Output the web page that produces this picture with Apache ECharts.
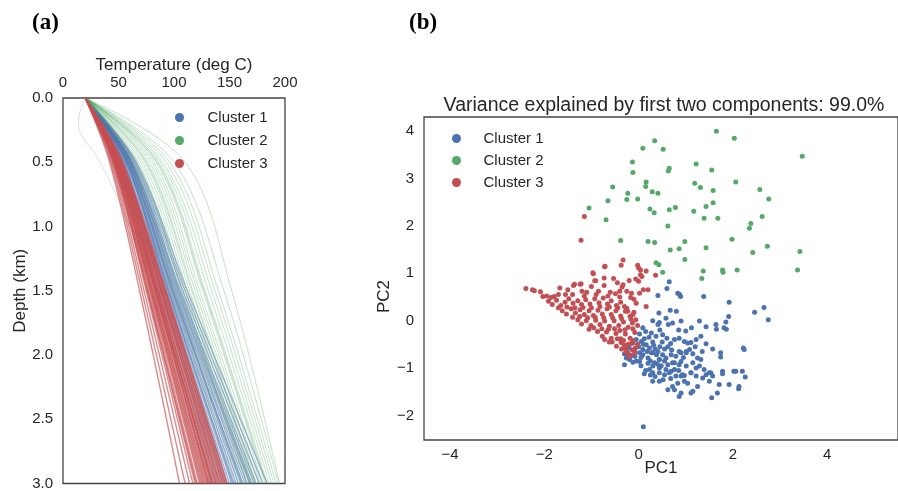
<!DOCTYPE html>
<html>
<head>
<meta charset="utf-8">
<script src="https://cdn.jsdelivr.net/npm/echarts@6/dist/echarts.min.js"></script>
<style>
html,body{margin:0;padding:0;background:#fff;}
#main{width:898px;height:491px;}
</style>
</head>
<body>
<div id="main"></div>
<script>
// (a) temperature profiles: surface temp, then temps at 0.5, 1.5, 3.0 km
var depthLevels = [0, 0.5, 1.5, 3.0];
var surfaceTemp = 20;
var tempTicks = [0, 50, 100, 150, 200];
var depthTicks = [0, 0.5, 1.0, 1.5, 2.0, 2.5, 3.0];

var cluster1Profiles = [
	[52,84,135],[53,86,138],[54,88,141],[55,89,144],[55,90,146],[56,92,148],[57,93,150],
	[57,94,152],[58,95,154],[58,96,156],[59,97,158],[59,98,160],[60,99,162],[60,100,164],
	[61,101,166],[61,102,168],[62,104,170],[62,105,172],[63,106,174],[64,108,177],
	[65,110,180],[66,112,184],[57,95,153],[59,99,161],[61,103,169]
];
var cluster2Profiles = [
	[60,98,155],[63,101,158],[65,104,162],[67,107,165],[70,110,168],[72,112,170],
	[74,114,172],[76,117,174],[78,119,176],[80,121,178],[82,123,180],[84,126,182],
	[86,128,184],[88,131,186],[90,134,188],[93,137,190],[96,140,192],[100,145,194],
	[110,152,195],[68,108,166],[75,116,173],[85,127,183]
];
var cluster3Profiles = [
	[42,69,105],[43,71,110],[44,73,114],[45,75,117],[45,76,119],[46,77,121],[46,78,123],
	[47,79,125],[47,80,126],[47,80,127],[48,81,128],[48,81,129],[48,82,130],[48,83,131],
	[49,83,132],[49,84,133],[49,84,134],[50,85,135],[50,86,136],[50,86,137],[50,87,138],
	[51,88,139],[51,88,140],[51,89,141],[52,89,142],[52,90,143],[52,91,144],[53,91,145],
	[53,92,146],[53,92,147],[54,93,148],[46,76,120],[49,83,131],[50,85,134],[47,79,124]
];
// the odd profile that bends left near the surface
var oddDepths = [0, 0.12, 0.22, 0.32, 0.45, 0.7, 1.5, 3.0];
var oddTemps = [20, 15, 14, 19, 30, 45, 85, 150];

// (b) PCA scatter
var pc1Ticks = [-4, -2, 0, 2, 4];
var pc2Ticks = [-2, -1, 0, 1, 2, 3, 4];

var cluster1Points = [
	[0.65,0.82],[0.60,0.68],[0.83,0.58],[0.87,0.55],[0.89,0.51],[0.41,0.53],[1.38,0.51],[1.92,0.39],
	[2.46,0.18],[2.66,0.28],[2.75,0.02],[0.43,0.16],[0.67,0.22],[0.80,0.20],[0.44,-0.04],[0.41,-0.08],
	[0.63,-0.08],[0.72,-0.05],[0.90,-0.01],[1.29,-0.01],[1.43,-0.13],[1.64,-0.08],[1.65,-0.18],[1.81,-0.15],
	[1.86,-0.18],[1.91,0.09],[1.85,-0.03],[0.85,-0.20],[0.09,-0.15],[0.15,-0.23],[0.02,-0.28],[0.27,-0.26],
	[0.37,-0.33],[0.51,-0.30],[0.60,-0.37],[0.76,-0.40],[0.86,-0.37],[0.97,-0.44],[1.04,-0.47],[1.11,-0.46],
	[1.22,-0.40],[1.32,-0.33],[1.43,-0.49],[1.57,-0.60],[2.22,-0.58],[1.74,-0.77],[-0.05,-0.40],[0.06,-0.44],
	[-0.12,-0.47],[0.16,-0.51],[-0.23,-0.68],[-0.15,-0.74],[-0.26,-0.79],[-0.08,-0.65],[0.02,-0.68],[0.09,-0.61],
	[0.23,-0.58],[0.30,-0.68],[0.41,-0.65],[0.51,-0.72],[0.44,-0.82],[0.58,-0.79],[0.69,-0.72],[0.79,-0.75],
	[0.86,-0.65],[1.01,-0.68],[1.08,-0.61],[0.76,-0.89],[0.90,-0.86],[1.01,-0.96],[1.15,-0.89],[1.25,-0.79],
	[1.29,-0.96],[1.39,-1.03],[1.50,-1.10],[1.78,-1.07],[2.06,-1.07],[2.20,-1.07],[0.30,-0.96],[0.23,-1.03],
	[0.44,-1.10],[0.58,-1.03],[0.69,-1.07],[0.79,-1.17],[0.97,-1.16],[1.11,-1.10],[1.22,-1.17],[-0.30,-0.93],
	[-0.19,-0.82],[-0.08,-0.75],[0.02,-0.86],[0.09,-0.72],[0.20,-0.79],[0.27,-0.68],[0.34,-0.89],[0.44,-0.82],
	[0.62,-0.93],[0.72,-0.89],[0.90,-0.68],[1.01,-0.65],[0.30,-1.10],[0.44,-1.00],[0.55,-1.14],[0.65,-1.10],
	[0.76,-1.03],[0.86,-0.93],[0.93,-1.14],[1.11,-1.10],[1.22,-1.00],[1.32,-0.82],[0.30,-1.28],[0.44,-1.28],
	[0.62,-1.46],[0.72,-1.39],[0.83,-1.32],[0.90,-1.17],[0.97,-1.28],[1.04,-1.32],[1.15,-1.49],[1.11,-1.53],
	[0.90,-1.53],[0.86,-1.60],[0.76,-1.46],[1.25,-1.39],[1.36,-1.21],[1.43,-1.14],[1.53,-1.10],[1.57,-1.17],
	[1.50,-1.28],[1.78,-1.12],[1.92,-1.35],[2.02,-1.07],[2.26,-1.19],[2.13,-1.39],[2.12,-1.44],[1.71,-1.35],
	[1.67,-1.53],[1.55,-1.63],[1.74,-0.68],[2.24,-0.61],[0.10,-0.50],[0.30,-0.45],[0.45,-0.55],[0.20,-0.90],
	[0.38,-0.72],[0.55,-0.60],[0.05,-0.95],[-0.05,-0.85],[0.12,-0.38],[0.35,-0.60],[0.62,-0.55],[0.70,-0.62],
	[0.48,-0.95],[0.25,-1.15],[0.15,-1.05],[-0.20,-0.58],[-0.30,-0.70],[0.10,-2.24],
	[0.00,-0.55],[0.18,-0.65],[0.32,-0.52],[0.50,-0.45],[0.68,-0.48],[0.05,-0.78],[0.25,-0.85],[0.40,-0.92],
	[0.55,-0.85],[-0.12,-0.88],[0.12,-1.12],[0.35,-1.18],[0.52,-1.25],[0.68,-1.22],[0.85,-1.05],[0.95,-0.78],
	[1.15,-0.70],[1.35,-0.65],[1.20,-0.55],[0.22,-0.35],[0.45,-0.20],[0.58,0.05],[0.30,0.00],[1.00,-0.22],
	[1.12,-0.15]
];
var cluster2Points = [
	[1.65,4.00],[2.03,3.85],[3.47,3.47],[0.34,3.80],[0.09,3.64],[0.52,3.62],[-0.13,3.35],[-0.12,3.13],
	[0.65,3.22],[0.63,3.16],[1.22,3.31],[1.55,3.18],[-0.55,2.82],[0.16,2.93],[0.15,2.83],[-0.23,2.69],
	[0.29,2.72],[0.41,2.69],[1.19,2.90],[1.31,2.81],[1.58,2.75],[2.06,2.93],[2.57,2.77],[2.76,2.57],
	[-1.05,2.38],[-0.65,2.53],[-0.25,2.56],[-0.02,2.57],[0.24,2.36],[0.33,2.28],[0.65,2.34],[0.78,2.39],
	[1.17,2.31],[1.43,2.41],[1.58,2.49],[1.39,2.16],[1.68,2.16],[2.62,2.20],[2.38,2.05],[2.35,1.95],
	[-0.69,2.13],[0.62,2.00],[-0.38,1.69],[0.20,1.67],[0.34,1.65],[0.98,1.67],[0.67,1.49],[0.86,1.52],
	[0.98,1.29],[1.43,1.54],[1.98,1.72],[2.42,1.44],[2.73,1.57],[3.42,1.46],[0.37,1.22],[0.43,1.18],
	[0.51,1.02],[1.37,1.05],[1.78,1.07],[1.79,1.02],[2.09,1.07],[3.37,1.07],[1.34,0.89]
];
var cluster3Points = [
	[-1.91,0.41],[-1.83,0.34],[-1.74,0.43],[-1.65,0.32],[-1.56,0.39],[-1.48,0.46],[-1.39,0.37],[-1.29,0.42],
	[-1.21,0.34],[-1.12,0.44],[-1.03,0.35],[-0.93,0.46],[-0.84,0.38],[-0.75,0.48],[-0.66,0.35],[-0.58,0.42],
	[-0.47,0.32],[-0.38,0.39],[-0.30,0.30],
	[-1.62,0.21],[-1.53,0.14],[-1.43,0.25],[-1.34,0.16],[-1.24,0.23],[-1.15,0.13],[-1.05,0.21],[-0.96,0.11],
	[-0.86,0.22],[-0.77,0.14],[-0.67,0.25],[-0.58,0.13],[-0.48,0.21],[-0.38,0.10],[-0.28,0.20],[-0.18,0.09],
	[-0.10,0.18],
	[-1.29,0.02],[-1.21,-0.07],[-1.11,0.00],[-1.01,-0.10],[-0.91,0.01],[-0.82,-0.08],[-0.72,-0.01],[-0.62,-0.12],
	[-0.52,0.00],[-0.42,-0.10],[-0.32,-0.03],[-0.22,-0.14],[-0.13,-0.05],[-0.06,0.02],
	[-0.87,-0.23],[-0.77,-0.33],[-0.68,-0.24],[-0.58,-0.37],[-0.48,-0.27],[-0.38,-0.38],[-0.28,-0.28],[-0.18,-0.37],
	[-0.08,-0.25],[-0.51,-0.17],[-0.29,-0.19],
	[-0.56,-0.45],[-0.47,-0.54],[-0.37,-0.46],[-0.27,-0.59],[-0.17,-0.49],[-0.07,-0.58],[-0.12,-0.42],
	[-0.26,-0.66],[-0.17,-0.73],[-0.08,-0.68],[-0.21,-0.75],
	[-2.39,0.68],[-2.25,0.65],[-2.21,0.63],[-2.08,0.61],[-2.03,0.51],[-1.86,0.49],[-1.79,0.51],[-1.67,0.69],
	[-1.50,0.65],[-1.38,0.74],[-1.24,0.77],[-1.20,0.62],[-0.96,0.99],[-0.93,0.84],[-0.72,1.14],[-0.73,0.90],
	[-0.73,0.74],[-0.33,1.28],[-0.37,1.17],[-0.53,0.89],[-0.35,0.71],[-0.49,0.57],[-0.17,0.49],[0.00,1.11],
	[0.04,0.97],[0.00,0.83],[-1.15,2.20],[-1.22,1.70],[-0.71,1.15],[-0.02,1.17],[0.04,1.07],[0.16,1.05],
	[0.07,0.93],[-0.06,0.88],[0.36,0.96],[-0.97,1.01],[-0.91,0.84],[-1.22,0.78],[-1.36,0.77],
	[-1.55,0.55],[-1.10,0.60],[-0.85,0.62],[-0.60,0.60],[-0.25,0.62],[-0.10,0.45],[0.10,0.65],[-0.45,0.80],
	[-1.00,0.72],[-0.20,0.85],[-0.33,0.76],[-0.40,0.62],[-0.15,0.58],[0.02,0.58],[0.20,0.65],[-0.05,0.37],
	[0.16,0.30],[-0.23,0.20],[-0.12,0.13],
	[-1.70,0.27],[-1.52,0.29],[-1.35,0.27],[-1.18,0.28],[-1.00,0.27],[-0.82,0.30],[-0.62,0.29],[-0.44,0.27],
	[-0.25,0.26],[-1.40,0.07],[-1.25,0.09],[-1.08,0.06],[-0.92,0.07],[-0.74,0.06],[-0.55,0.06],[-0.36,0.04],
	[-0.16,0.03],[-1.05,-0.18],[-0.95,-0.15],[-0.78,-0.17],[-0.64,-0.18],[-0.40,-0.21],[-0.12,-0.17],[-0.02,-0.10],
	[-0.72,-0.40],[-0.62,-0.45],[-0.45,-0.38],[-0.32,-0.42],[-0.22,-0.50],[-0.02,-0.50],[-0.36,-0.60],[-0.13,-0.62],
	[-0.30,-0.52],[-1.95,0.52],[-1.70,0.55],[-1.40,0.55],[-1.15,0.52],[-0.90,0.55],[-0.65,0.52],[-0.40,0.50]
];

var clusterNames = ['Cluster 1', 'Cluster 2', 'Cluster 3'];
var clusterColors = ['#4c72b0', '#55a868', '#c44e52'];

var txt = '#262626';
var fontFam = 'Liberation Sans, Arial, sans-serif';

function minusFmt(v) {
	return String(v).replace('-', '\u2212');
}

// one line series per profile
function profileSeries(profiles, idx, width, opacity) {
	var out = [];
	for (var i = 0; i < profiles.length; i++) {
		var p = profiles[i];
		var pts = [[surfaceTemp, depthLevels[0]]];
		for (var k = 0; k < p.length; k++) {
			pts.push([p[k], depthLevels[k + 1]]);
		}
		out.push({
			type: 'line',
			name: clusterNames[idx],
			xAxisIndex: 0,
			yAxisIndex: 0,
			data: pts,
			smooth: 0.35,
			showSymbol: false,
			silent: true,
			z: 2 + idx,
			lineStyle: {width: width, color: clusterColors[idx], opacity: opacity}
		});
	}
	return out;
}

var series = [];
var oddPts = [];
for (var i = 0; i < oddDepths.length; i++) oddPts.push([oddTemps[i], oddDepths[i]]);
series.push({
	type: 'line', name: 'Cluster 1', xAxisIndex: 0, yAxisIndex: 0, data: oddPts,
	smooth: 0.4, showSymbol: false, silent: true,
	lineStyle: {width: 1, color: '#8fa3c8', opacity: 0.35}
});
series = series.concat(profileSeries(cluster1Profiles, 0, 1.3, 0.55));
series = series.concat(profileSeries(cluster2Profiles, 1, 1, 0.35));
series = series.concat(profileSeries(cluster3Profiles, 2, 1.4, 0.65));

var pointSets = [cluster1Points, cluster2Points, cluster3Points];
for (var c = 0; c < 3; c++) {
	series.push({
		type: 'scatter',
		name: clusterNames[c],
		xAxisIndex: 1,
		yAxisIndex: 1,
		data: pointSets[c],
		symbolSize: 5,
		itemStyle: {color: clusterColors[c], opacity: 1}
	});
}

function legendData() {
	return clusterNames.map(function(n, i) {
		return {name: n, icon: 'circle', itemStyle: {color: clusterColors[i], opacity: 1}};
	});
}

var myChart = echarts.init(document.getElementById('main'), null, {renderer: 'canvas'});
var option = {
	animation: false,
	backgroundColor: '#fff',
	textStyle: {fontFamily: fontFam, color: txt},
	title: [
		{text: '(a)', left: 27, top: 7, textStyle: {fontFamily: 'Liberation Serif, Times New Roman, serif', fontWeight: 'bold', fontSize: 23, color: '#000'}},
		{text: '(b)', left: 404, top: 7, textStyle: {fontFamily: 'Liberation Serif, Times New Roman, serif', fontWeight: 'bold', fontSize: 23, color: '#000'}},
		{text: 'Variance explained by first two components: 99.0%', left: 659, top: 91, textAlign: 'center',
			textStyle: {fontFamily: fontFam, fontWeight: 'normal', fontSize: 19.5, color: txt}}
	],
	legend: [
		{data: legendData(), orient: 'vertical', left: 170, top: 105, itemWidth: 46, itemHeight: 9, itemGap: 8,
			textStyle: {fontSize: 15, color: txt, fontFamily: fontFam}, selectedMode: false},
		{data: legendData(), orient: 'vertical', left: 447, top: 126, itemWidth: 44, itemHeight: 9, itemGap: 7,
			textStyle: {fontSize: 15, color: txt, fontFamily: fontFam}, selectedMode: false}
	],
	grid: [
		{left: 63, top: 98, width: 222, height: 387, show: true, borderColor: '#444', borderWidth: 1.3},
		{left: 424, top: 117, right: -1, bottom: 51, show: true, borderColor: '#444', borderWidth: 1.3}
	],
	xAxis: [
		{type: 'value', gridIndex: 0, position: 'top', min: tempTicks[0], max: tempTicks[tempTicks.length - 1], interval: 50,
			name: 'Temperature (deg C)', nameLocation: 'middle', nameGap: 24, nameMoveOverlap: false,
			nameTextStyle: {fontSize: 17, color: txt},
			axisLine: {show: false}, axisTick: {show: false}, splitLine: {show: false},
			axisLabel: {fontSize: 15, color: txt, margin: 8}},
		{type: 'value', gridIndex: 1, min: -4.55, max: 5.5,
			name: 'PC1', nameLocation: 'middle', nameGap: 20, nameMoveOverlap: false,
			nameTextStyle: {fontSize: 17, color: txt, verticalAlign: 'top'},
			axisLine: {show: false}, axisTick: {show: false}, splitLine: {show: false},
			axisLabel: {fontSize: 15, color: txt, margin: 7, customValues: pc1Ticks, formatter: minusFmt}}
	],
	yAxis: [
		{type: 'value', gridIndex: 0, inverse: true, min: depthTicks[0], max: depthTicks[depthTicks.length - 1], interval: 0.5,
			name: 'Depth (km)', nameLocation: 'middle', nameGap: 34, nameMoveOverlap: false,
			nameTextStyle: {fontSize: 17, color: txt},
			axisLine: {show: false}, axisTick: {show: false}, splitLine: {show: false},
			axisLabel: {fontSize: 15, color: txt, margin: 10, formatter: function(v) { return v.toFixed(1); }}},
		{type: 'value', gridIndex: 1, min: -2.52, max: 4.3,
			name: 'PC2', nameLocation: 'middle', nameGap: 31, nameMoveOverlap: false,
			nameTextStyle: {fontSize: 17, color: txt, padding: [0, 36, 0, 0]},
			axisLine: {show: false}, axisTick: {show: false}, splitLine: {show: false},
			axisLabel: {fontSize: 15, color: txt, margin: 10, customValues: pc2Ticks, formatter: minusFmt}}
	],
	series: series
};
myChart.setOption(option);
</script>
</body>
</html>
